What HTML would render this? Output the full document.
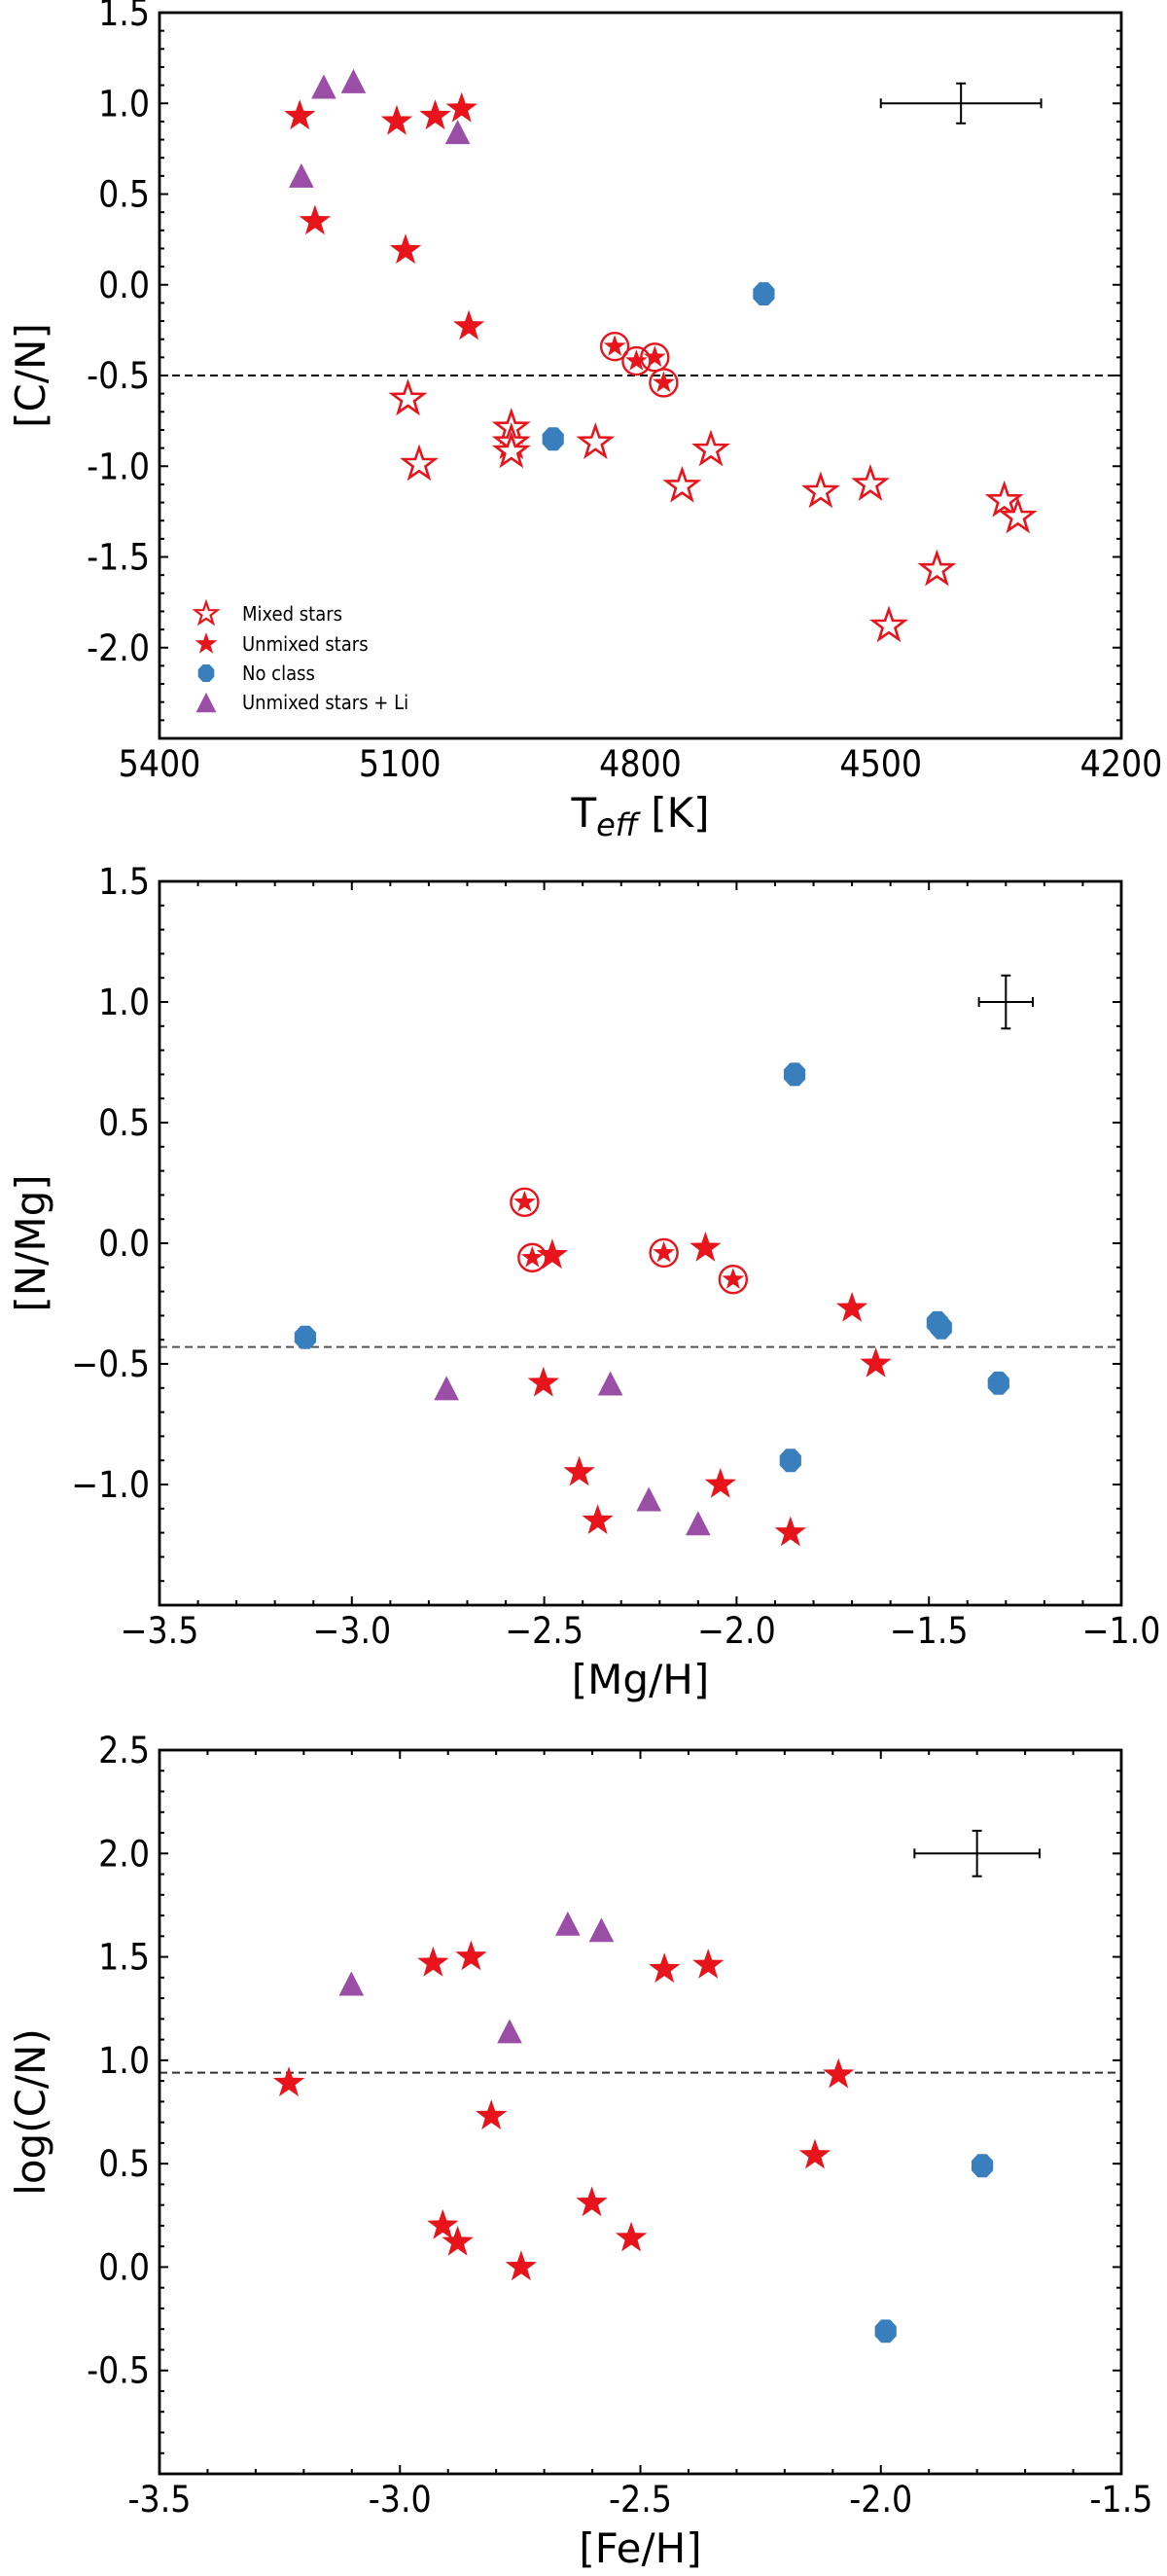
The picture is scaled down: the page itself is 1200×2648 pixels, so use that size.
<!DOCTYPE html>
<html><head><meta charset="utf-8"><style>
html,body{margin:0;padding:0;background:#fff;}
svg{display:block;}
.tick{font-family:"DejaVu Sans Condensed","DejaVu Sans",sans-serif;font-stretch:condensed;font-size:37px;fill:#000;}
.title{font-family:"DejaVu Sans","Liberation Sans",sans-serif;font-size:42px;fill:#000;}
.leg{font-family:"DejaVu Sans Condensed","DejaVu Sans",sans-serif;font-stretch:condensed;font-size:20px;fill:#000;}
</style></head><body>
<svg id="fig" width="1200" height="2648" viewBox="0 0 1200 2648" xmlns="http://www.w3.org/2000/svg"></svg>
<script>
// ---- Panel 1 data: Teff vs [C/N]
const p1MixedT = [5090,5076,4961,4961,4961,4856,4748,4712,4575,4513,4490,4430,4346,4329];
const p1MixedY = [-0.63,-0.99,-0.79,-0.87,-0.92,-0.87,-1.11,-0.91,-1.14,-1.10,-1.88,-1.57,-1.19,-1.28];
const p1UnmixT = [5225,5206,5104,5093,5056,5023,5014];
const p1UnmixY = [0.93,0.35,0.90,0.19,0.93,0.97,-0.23];
const p1CircT = [4832,4805,4782,4771];
const p1CircY = [-0.34,-0.42,-0.40,-0.54];
const p1NoT = [4909,4646];
const p1NoY = [-0.85,-0.05];
const p1LiT = [5223,5195,5158,5028];
const p1LiY = [0.59,1.08,1.11,0.83];
const p1XTicks = [5400,5100,4800,4500,4200];
const p1YTicks = [1.5,1.0,0.5,0.0,-0.5,-1.0,-1.5,-2.0];
// ---- Panel 2 data: [Mg/H] vs [N/Mg]
const p2NoX = [-3.121,-1.849,-1.478,-1.468,-1.319,-1.860];
const p2NoY = [-0.39,0.70,-0.33,-0.35,-0.58,-0.90];
const p2CircX = [-2.551,-2.531,-2.189,-2.009];
const p2CircY = [0.17,-0.06,-0.04,-0.15];
const p2UnmixX = [-2.479,-2.081,-1.700,-1.638,-2.502,-2.409,-2.361,-2.042,-1.860];
const p2UnmixY = [-0.05,-0.02,-0.27,-0.50,-0.58,-0.95,-1.15,-1.00,-1.20];
const p2LiX = [-2.754,-2.328,-2.228,-2.100];
const p2LiY = [-0.61,-0.59,-1.07,-1.17];
const p2XTicks = [-3.5,-3.0,-2.5,-2.0,-1.5,-1.0];
const p2YTicks = [1.5,1.0,0.5,0.0,-0.5,-1.0];
// ---- Panel 3 data: [Fe/H] vs log(C/N)
const p3UnmixX = [-3.231,-2.931,-2.852,-2.450,-2.359,-2.088,-2.137,-2.810,-2.601,-2.911,-2.880,-2.748,-2.519];
const p3UnmixY = [0.89,1.47,1.50,1.44,1.46,0.93,0.54,0.73,0.31,0.20,0.12,0.0,0.14];
const p3LiX = [-3.101,-2.772,-2.651,-2.581];
const p3LiY = [1.36,1.13,1.65,1.62];
const p3NoX = [-1.789,-1.990];
const p3NoY = [0.49,-0.31];
const p3XTicks = [-3.5,-3.0,-2.5,-2.0,-1.5];
const p3YTicks = [2.5,2.0,1.5,1.0,0.5,0.0,-0.5];

const NS='http://www.w3.org/2000/svg';
const svg=document.getElementById('fig');
const RED='#e8141c', BLUE='#3a7fbd', PURP='#9b4ea6';
function el(tag,attrs,parent){const e=document.createElementNS(NS,tag);for(const k in attrs)e.setAttribute(k,attrs[k]);(parent||svg).appendChild(e);return e;}
function starPts(cx,cy,R){const r=R*0.4;let p=[];for(let i=0;i<10;i++){const a=-Math.PI/2+i*Math.PI/5;const rr=i%2?r:R;p.push((cx+rr*Math.cos(a)).toFixed(1)+','+(cy+rr*Math.sin(a)).toFixed(1));}return p.join(' ');}
function octPts(cx,cy,R){let p=[];for(let i=0;i<8;i++){const a=Math.PI/8+i*Math.PI/4;p.push((cx+R*Math.cos(a)).toFixed(1)+','+(cy+R*1.08*Math.sin(a)).toFixed(1));}return p.join(' ');}
function triPts(cx,cy,R){return [cx+','+(cy-R*1.1),(cx-R*0.95)+','+(cy+R*0.75),(cx+R*0.95)+','+(cy+R*0.75)].join(' ');}

function drawMarker(g,type,cx,cy,name){
  let m;
  if(type==='open'){m=el('polygon',{points:starPts(cx,cy,17),fill:'#fff',stroke:RED,'stroke-width':2.6},g);}
  else if(type==='star'){m=el('polygon',{points:starPts(cx,cy,17),fill:RED},g);}
  else if(type==='circ'){m=el('g',{},g);el('circle',{cx:cx,cy:cy,r:14,fill:'none',stroke:RED,'stroke-width':2.4},m);el('polygon',{points:starPts(cx,cy,12),fill:RED},m);}
  else if(type==='no'){m=el('polygon',{points:octPts(cx,cy,12),fill:BLUE},g);}
  else {m=el('polygon',{points:triPts(cx,cy,13.5),fill:PURP},g);}
  
  
  return m;
}

function panel(cfg){
  const g=el('g',{});
  
  
  const L=164,R=1153,T=cfg.top,B=cfg.bottom;
  const sx=v=>L+(v-cfg.x0)/(cfg.x1-cfg.x0)*(R-L);
  const sy=v=>T+(cfg.y1-v)/(cfg.y1-cfg.y0)*(B-T);
  const tg=el('g',{stroke:'#000','stroke-width':2},g);
  
  
  const xn=Math.round((cfg.x1-cfg.x0)/cfg.xm);
  for(let i=0;i<=xn;i++){const v=cfg.x0+i*cfg.xm;const x=sx(v);const major=cfg.xTicks.some(t=>Math.abs(t-v)<1e-6);const len=major?9:5;
    el('line',{x1:x,y1:B,x2:x,y2:B-len},tg);el('line',{x1:x,y1:T,x2:x,y2:T+len},tg);}
  const yn=Math.round((cfg.y1-cfg.y0)/cfg.ym);
  for(let i=0;i<=yn;i++){const v=cfg.y0+i*cfg.ym;const y=sy(v);const major=cfg.yTicks.some(t=>Math.abs(t-v)<1e-6)||Math.abs((v*2)-Math.round(v*2))<1e-6;const len=major?9:5;
    el('line',{x1:L,y1:y,x2:L+len,y2:y},tg);el('line',{x1:R,y1:y,x2:R-len,y2:y},tg);}
  cfg.xTicks.forEach(v=>{const t=el('text',{x:sx(v),y:B+39,'text-anchor':'middle',class:'tick'},g);t.textContent=cfg.xFmt(v);
    
    });
  cfg.yTicks.forEach(v=>{const t=el('text',{x:L-10,y:sy(v)+13,'text-anchor':'end',class:'tick'},g);t.textContent=cfg.yFmt(v);
    
    });
  const dl=el('line',{x1:L,x2:R,y1:sy(cfg.dash),y2:sy(cfg.dash),stroke:cfg.dashColor,'stroke-width':2,'stroke-dasharray':'8,5'},g);
  
  
  const eb=el('g',{stroke:'#000','stroke-width':2},g);
  
  
  const ex=sx(cfg.err[0]),ey=sy(cfg.err[1]);
  const exl=sx(cfg.err[0]-cfg.err[2]),exr=sx(cfg.err[0]+cfg.err[2]);
  const eyt=sy(cfg.err[1]+cfg.err[3]),eyb=sy(cfg.err[1]-cfg.err[3]);
  el('line',{x1:exl,x2:exr,y1:ey,y2:ey},eb);el('line',{x1:ex,x2:ex,y1:eyt,y2:eyb},eb);
  el('line',{x1:exl,x2:exl,y1:ey-5,y2:ey+5},eb);el('line',{x1:exr,x2:exr,y1:ey-5,y2:ey+5},eb);
  el('line',{x1:ex-5,x2:ex+5,y1:eyt,y2:eyt},eb);el('line',{x1:ex-5,x2:ex+5,y1:eyb,y2:eyb},eb);
  cfg.series.forEach(s=>{s.xs.forEach((xv,i)=>drawMarker(g,s.type,sx(xv),sy(s.ys[i]),s.name));});
  const fr=el('rect',{x:L,y:T,width:R-L,height:B-T,fill:'none',stroke:'#000','stroke-width':2.8},g);
  
  
  const xt=el('text',{x:(L+R)/2,y:B+91,'text-anchor':'middle',class:'title'},g);
  
  
  if(cfg.xTitleHTML){xt.innerHTML=cfg.xTitleHTML;}else xt.textContent=cfg.xTitle;
  const yt=el('text',{x:0,y:0,'text-anchor':'middle',class:'title',transform:'translate(46,'+((T+B)/2)+') rotate(-90)'},g);
  yt.textContent=cfg.yTitle;
  
  
  return g;
}
const f1=v=>v.toFixed(1);
const fm=v=>(v<0?'\u2212'+Math.abs(v).toFixed(1):v.toFixed(1));

panel({name:'cn-vs-teff-panel',top:13,bottom:759,x0:5400,x1:4200,y0:-2.5,y1:1.5,xm:100,ym:0.1,
  xTicks:p1XTicks,yTicks:p1YTicks,xFmt:v=>String(v),yFmt:f1,dash:-0.5,dashColor:'#000',
  err:[4400,1.0,100,0.11],yTitle:'[C/N]',
  xTitleHTML:'T<tspan dy="9" font-size="32" font-style="italic">eff</tspan><tspan dy="-9"> [K]</tspan>',
  series:[{type:'open',name:'mixed-star',xs:p1MixedT,ys:p1MixedY},{type:'star',name:'unmixed-star',xs:p1UnmixT,ys:p1UnmixY},
    {type:'circ',name:'circled-star',xs:p1CircT,ys:p1CircY},{type:'no',name:'no-class-point',xs:p1NoT,ys:p1NoY},{type:'tri',name:'unmixed-li-point',xs:p1LiT,ys:p1LiY}]});

const lg=el('g',{});


const legItems=[['open','Mixed stars',631],['star','Unmixed stars',662],['no','No class',692],['tri','Unmixed stars + Li',722]];
legItems.forEach(it=>{
  const g=el('g',{},lg);
  
  
  if(it[0]==='open')el('polygon',{points:starPts(212,it[2],12),fill:'#fff',stroke:RED,'stroke-width':2.2},g);
  else if(it[0]==='star')el('polygon',{points:starPts(212,it[2],12),fill:RED},g);
  else if(it[0]==='no')el('polygon',{points:octPts(212,it[2],9),fill:BLUE},g);
  else el('polygon',{points:triPts(212,it[2]+2,11),fill:PURP},g);
  const t=el('text',{x:249,y:it[2]+7,class:'leg'},g);t.textContent=it[1];
});

panel({name:'nmg-vs-mgh-panel',top:906,bottom:1650,x0:-3.5,x1:-1.0,y0:-1.5,y1:1.5,xm:0.1,ym:0.1,
  xTicks:p2XTicks,yTicks:p2YTicks,xFmt:fm,yFmt:fm,dash:-0.43,dashColor:'#555',
  err:[-1.30,1.0,0.07,0.11],yTitle:'[N/Mg]',xTitle:'[Mg/H]',
  series:[{type:'no',name:'no-class-point',xs:p2NoX,ys:p2NoY},{type:'circ',name:'circled-star',xs:p2CircX,ys:p2CircY},
    {type:'star',name:'unmixed-star',xs:p2UnmixX,ys:p2UnmixY},{type:'tri',name:'unmixed-li-point',xs:p2LiX,ys:p2LiY}]});

panel({name:'logcn-vs-feh-panel',top:1799,bottom:2543,x0:-3.5,x1:-1.5,y0:-1.0,y1:2.5,xm:0.1,ym:0.1,
  xTicks:p3XTicks,yTicks:p3YTicks,xFmt:f1,yFmt:f1,dash:0.94,dashColor:'#333',
  err:[-1.80,2.0,0.13,0.11],yTitle:'log(C/N)',xTitle:'[Fe/H]',
  series:[{type:'star',name:'unmixed-star',xs:p3UnmixX,ys:p3UnmixY},{type:'tri',name:'unmixed-li-point',xs:p3LiX,ys:p3LiY},
    {type:'no',name:'no-class-point',xs:p3NoX,ys:p3NoY}]});
</script>
</body></html>
